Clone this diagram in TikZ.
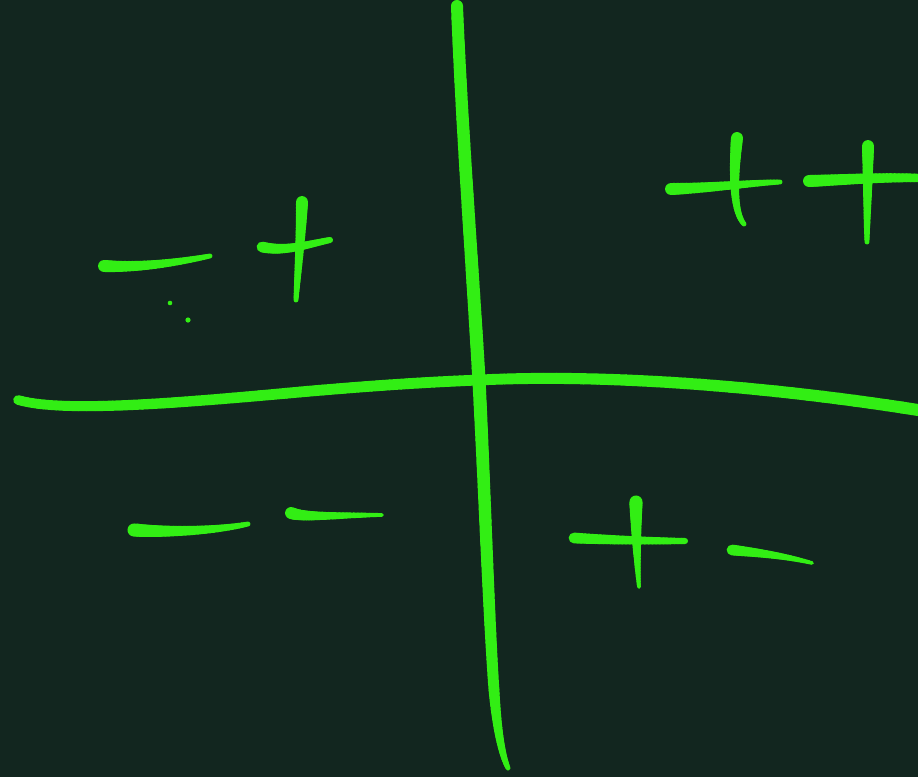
\documentclass[tikz,border=0pt]{standalone}
\definecolor{bgc}{RGB}{18,38,31}
\definecolor{ink}{RGB}{50,238,20}
\def\tparse#1,#2,#3,#4,#5,#6,#7,#8\relax{\def\xa{#1}\def\ya{#2}\def\xb{#3}\def\yb{#4}\def\xc{#5}\def\yc{#6}\def\xd{#7}\def\yd{#8}}
\newcommand\tstroke[3]{%
  \tparse#1\relax
  \foreach \i in {0,...,29}{%
    \pgfmathsetmacro\ta{\i/30}%
    \pgfmathsetmacro\tb{(\i+1)/30}%
    \pgfmathsetmacro\lw{1.2*(#2+(#3-#2)*(\i+0.5)/30)}%
    \pgfmathsetmacro\pxa{bz(\ta,\xa,\xb,\xc,\xd)}%
    \pgfmathsetmacro\pya{bz(\ta,\ya,\yb,\yc,\yd)}%
    \pgfmathsetmacro\pxb{bz(\tb,\xa,\xb,\xc,\xd)}%
    \pgfmathsetmacro\pyb{bz(\tb,\ya,\yb,\yc,\yd)}%
    \draw[inkline,line width=\lw pt] (\pxa,\pya) -- (\pxb,\pyb);
  }%
}
\begin{document}
\begin{tikzpicture}[x=1pt,y=-1pt,
  declare function={bz(\t,\a,\b,\c,\d)=(1-\t)^3*\a+3*(1-\t)^2*\t*\b+3*(1-\t)*\t^2*\c+\t^3*\d;},
  inkline/.style={draw=ink,line cap=round,line join=round}]
\fill[bgc] (0,0) rectangle (918,777);
\useasboundingbox (0,0) rectangle (918,777);
% vertical axis
\tstroke{457,6,462,130,472,260,479,380}{10}{11}
\tstroke{479,380,485,500,489,620,494,690}{11}{9}
\tstroke{494,690,497,730,502,755,508,768}{9}{4}
% horizontal axis
\tstroke{18,400,60,412,160,405,300,392}{8}{9}
\tstroke{300,392,380,385,430,382,480,380}{9}{9}
\tstroke{480,380,600,374,760,385,918,410}{9}{10}
% upper-left: - +
\tstroke{104,266,140,268,180,262,210,256}{10}{4}
\fill[ink] (170,303) circle (2.3);
\fill[ink] (188,320) circle (2.6);
\tstroke{262,247,285,252,305,245,330,240}{9}{5}
\tstroke{302,202,301,235,298,270,296,300}{10}{4}
% upper-right: + +
\tstroke{671,189,710,188,750,183,780,182}{10}{4}
\tstroke{737,138,734,170,732,210,744,224}{10}{4}
\tstroke{809,181,840,180,880,177,918,178}{10}{7}
\tstroke{868,146,868,180,867,215,867,242}{10}{4}
% lower-left: - -
\tstroke{134,530,170,533,220,530,248,524}{11}{4}
\tstroke{291,513,305,518,340,515,382,515}{10}{3}
% lower-right: + -
\tstroke{574,538,610,540,650,541,685,541}{9}{5}
\tstroke{636,502,636,530,637,560,639,587}{11}{3}
\tstroke{732,550,760,553,785,556,812,563}{9}{3}
\end{tikzpicture}
\end{document}
